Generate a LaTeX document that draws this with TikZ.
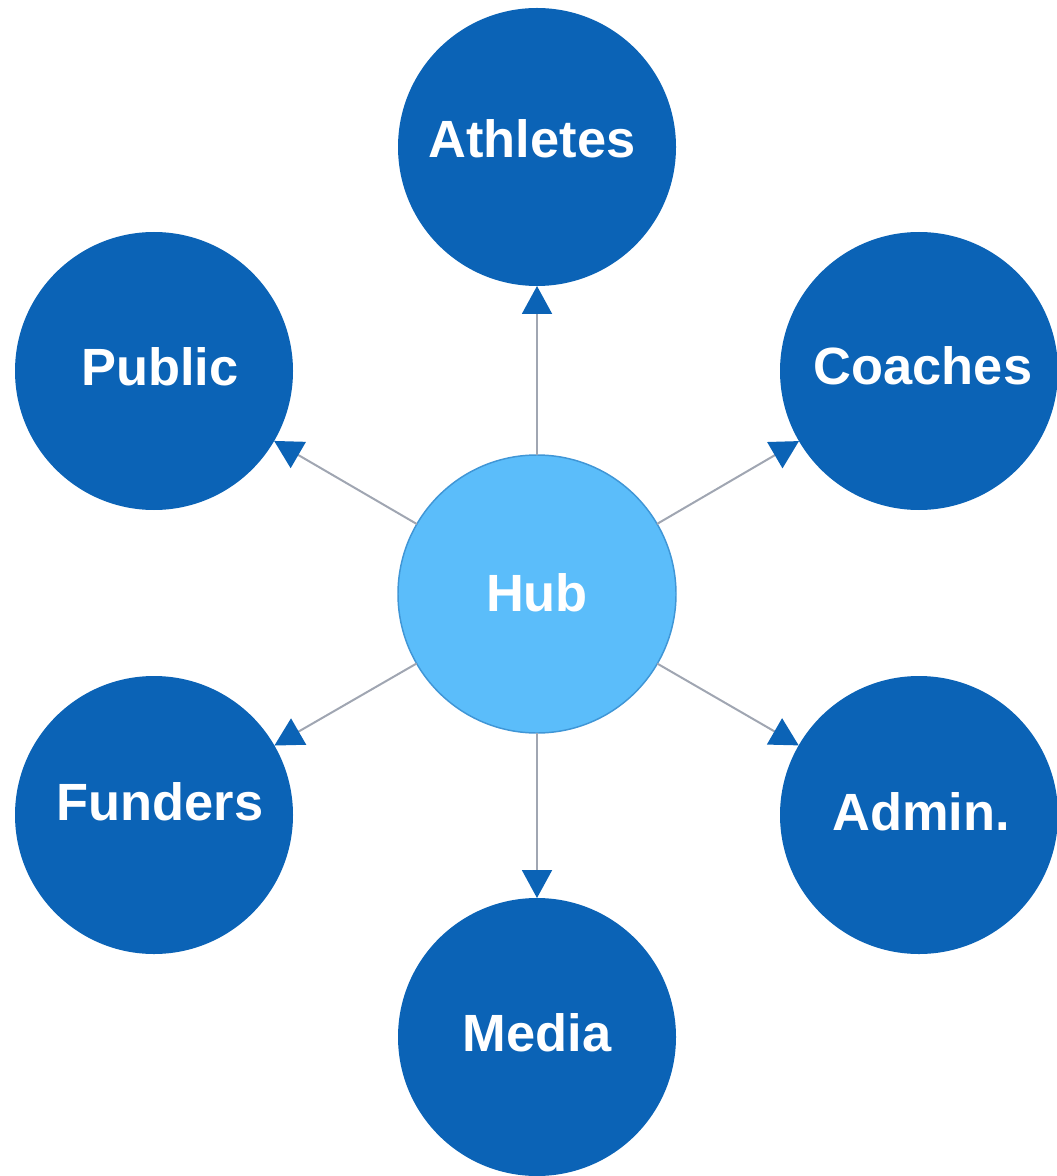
\documentclass[tikz,border=0pt]{standalone}
\usepackage{fontspec}
\setmainfont{Liberation Sans}
\usetikzlibrary{arrows.meta}
\definecolor{darkblue}{RGB}{11,99,182}
\definecolor{hubblue}{RGB}{91,189,250}
\definecolor{hubedge}{RGB}{64,150,214}
\definecolor{linegray}{RGB}{160,166,178}
\begin{document}
\begin{tikzpicture}[x=0.75pt,y=-0.75pt,
  outer/.style={circle, fill=darkblue, minimum size=208.5pt, inner sep=0pt, outer sep=0pt},
  hubstyle/.style={circle, fill=hubblue, draw=hubedge, line width=1.1pt, minimum size=208.5pt, inner sep=0pt, outer sep=0pt},
  lbl/.style={text=white, font=\fontsize{39.3}{46}\selectfont\bfseries, inner sep=0pt},
  link/.style={draw=linegray, line width=1.5pt, -{Triangle[length=21pt,width=22.5pt,color=darkblue]}}]
\useasboundingbox (0,0) rectangle (1056,1176);
% circles
\node[outer] (athletes) at (537,147) {};
\node[outer] (public) at (154,371) {};
\node[outer] (coaches) at (919,371) {};
\node[hubstyle] (hub) at (537,594) {};
\node[outer] (funders) at (154,815) {};
\node[outer] (admin) at (919,815) {};
\node[outer] (media) at (537,1037) {};
% labels
\node[lbl] (athletesT) at (532,139) {Athletes};
\node[lbl] (publicT) at (160,367) {Public};
\node[lbl] (coachesT) at (923,366) {Coaches};
\node[lbl] (hubT) at (537,593) {Hub};
\node[lbl] (fundersT) at (160,802) {Funders};
\node[lbl] (adminT) at (921,812) {Admin.};
\node[lbl] (mediaT) at (537,1033) {Media};
% connectors
\draw[link] (hub) -- (athletes);
\draw[link] (hub) -- (public);
\draw[link] (hub) -- (coaches);
\draw[link] (hub) -- (funders);
\draw[link] (hub) -- (admin);
\draw[link] (hub) -- (media);
\end{tikzpicture}
\end{document}
